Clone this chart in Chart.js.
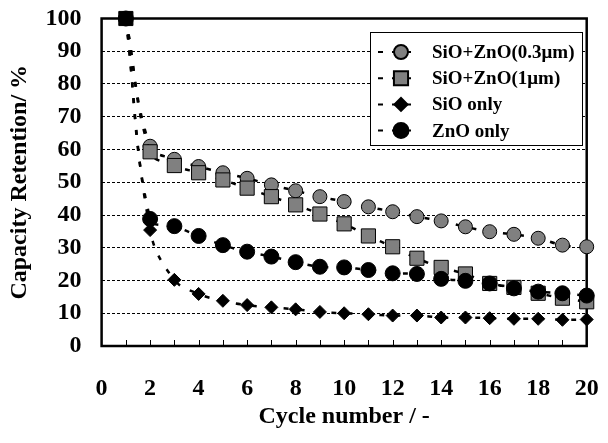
<!DOCTYPE html>
<html>
<head>
<meta charset="utf-8">
<script src="https://cdn.jsdelivr.net/npm/chart.js@4.4.0/dist/chart.umd.min.js"></script>
<style>
  html, body { margin: 0; padding: 0; background: #fff; }
  #wrap { width: 608px; height: 443px; }
</style>
</head>
<body>
<div id="wrap"><canvas id="chart"></canvas></div>
<script>
// cycle numbers on the x axis
const cycles = [1, 2, 3, 4, 5, 6, 7, 8, 9, 10, 11, 12, 13, 14, 15, 16, 17, 18, 19, 20];

// capacity retention (%)
const sioZnO03 = [100, 61.0, 57.0, 54.8, 52.9, 51.2, 49.2, 47.4, 45.6, 44.1, 42.5, 41.0, 39.5, 38.2, 36.4, 34.9, 34.1, 32.9, 30.8, 30.3];
const sioZnO1  = [100, 59.3, 55.1, 52.9, 50.7, 48.2, 45.6, 43.1, 40.3, 37.3, 33.6, 30.3, 26.8, 24.0, 22.0, 19.1, 17.9, 16.1, 14.6, 13.5];
const sioOnly  = [100, 35.4, 20.2, 15.9, 13.8, 12.5, 11.8, 11.2, 10.4, 10.0,  9.7,  9.3,  9.3,  8.7,  8.7,  8.5,  8.3,  8.3,  8.0,  8.1];
const znoOnly  = [100, 38.8, 36.6, 33.6, 30.8, 28.8, 27.3, 25.6, 24.2, 24.0, 23.2, 22.2, 22.0, 20.5, 19.9, 19.1, 17.6, 16.6, 16.1, 15.4];

const seriesLabels = ['SiO+ZnO(0.3μm)', 'SiO+ZnO(1μm)', 'SiO only', 'ZnO only'];

const X_MIN = 0, X_MAX = 20, X_STEP = 2;
const Y_MIN = 0, Y_MAX = 100, Y_STEP = 10;

const FONT = 'Liberation Serif, "Times New Roman", serif';
const GRAY = '#808080';

const toPoints = vals => cycles.map((c, i) => ({ x: c, y: vals[i] }));

const lineBase = {
  showLine: true,
  borderColor: '#000',
  borderWidth: 2.5,
  borderDash: [5, 11],
  tension: 0.4,
  pointBorderColor: '#000',
  pointBorderWidth: 1,
  pointHoverRadius: 7,
  clip: false,
};

/* frame, inner x minor ticks, legend box */
const decorPlugin = {
  id: 'decor',
  beforeDatasetsDraw(chart) {
    const { ctx, chartArea: a, scales: { x } } = chart;
    ctx.save();
    ctx.strokeStyle = '#000';
    // minor ticks pointing into the plot
    ctx.lineWidth = 1;
    for (let v = X_MIN + 1; v < X_MAX; v++) {
      const px = Math.round(x.getPixelForValue(v)) + 0.5;
      ctx.beginPath();
      ctx.moveTo(px, a.bottom);
      ctx.lineTo(px, a.bottom - 6);
      ctx.stroke();
    }
    ctx.lineWidth = 2.5;
    ctx.strokeRect(a.left, a.top, a.right - a.left, a.bottom - a.top);
    ctx.restore();
  },
  afterDatasetsDraw(chart) {
    const { ctx } = chart;
    const box = { x: 370, y: 32, w: 212, h: 113 };
    ctx.save();
    ctx.fillStyle = '#fff';
    ctx.fillRect(box.x, box.y, box.w, box.h);
    ctx.strokeStyle = '#000';
    ctx.lineWidth = 1;
    ctx.strokeRect(box.x + 0.5, box.y + 0.5, box.w, box.h);

    chart.data.datasets.forEach((ds, i) => {
      const cy = box.y + 20 + i * 26.2;
      ctx.strokeStyle = '#000';
      ctx.lineWidth = 2;
      ctx.setLineDash([5, 9]);
      ctx.beginPath();
      ctx.moveTo(378, cy);
      ctx.lineTo(420, cy);
      ctx.stroke();
      ctx.setLineDash([]);

      ctx.fillStyle = ds.legendColor;
      ctx.strokeStyle = '#000';
      Chart.helpers.drawPoint(ctx, {
        pointStyle: ds.pointStyle,
        radius: ds.pointRadius,
        borderWidth: 1,
        rotation: 0,
      }, 401, cy);

      ctx.fillStyle = '#000';
      ctx.font = 'bold 19px ' + FONT;
      ctx.textAlign = 'left';
      ctx.textBaseline = 'middle';
      ctx.fillText(ds.label, 432, cy + 1);
    });
    ctx.restore();
  }
};

new Chart(document.getElementById('chart'), {
  type: 'scatter',
  data: {
    datasets: [
      {
        ...lineBase,
        label: seriesLabels[0],
        data: toPoints(sioZnO03),
        pointStyle: 'circle',
        pointRadius: 7,
        pointBackgroundColor: GRAY,
        legendColor: GRAY,
        order: 4,
      },
      {
        ...lineBase,
        label: seriesLabels[1],
        data: toPoints(sioZnO1),
        pointStyle: 'rect',
        pointRadius: 10,
        pointBackgroundColor: cycles.map(c => (c === 1 ? '#000' : GRAY)),
        legendColor: GRAY,
        order: 3,
      },
      {
        ...lineBase,
        label: seriesLabels[2],
        data: toPoints(sioOnly),
        pointStyle: 'rectRot',
        pointRadius: 6.5,
        pointBackgroundColor: '#000',
        legendColor: '#000',
        order: 2,
      },
      {
        ...lineBase,
        label: seriesLabels[3],
        data: toPoints(znoOnly),
        pointStyle: 'circle',
        pointRadius: 7.5,
        pointBackgroundColor: '#000',
        legendColor: '#000',
        order: 1,
      },
    ]
  },
  options: {
    responsive: true,
    maintainAspectRatio: false,
    animation: false,
    layout: { padding: { top: 18.5, right: 21.3, bottom: 0, left: 0 } },
    plugins: {
      legend: { display: false },
      tooltip: { enabled: true },
    },
    scales: {
      x: {
        type: 'linear',
        min: X_MIN,
        max: X_MAX,
        grid: { display: false, drawTicks: false },
        border: { display: false },
        ticks: {
          stepSize: X_STEP,
          padding: 28,
          color: '#000',
          font: { family: FONT, size: 24, weight: 'bold' },
        },
        title: {
          display: true,
          text: 'Cycle number / -',
          color: '#000',
          font: { family: FONT, size: 24, weight: 'bold' },
          padding: { top: 0, bottom: 12 },
        },
        afterFit: s => {
          s.height = 97;
          s.paddingLeft = 0;
          s.paddingRight = 0;
        },
      },
      y: {
        min: Y_MIN,
        max: Y_MAX,
        grid: { color: '#000', lineWidth: 1, drawTicks: false },
        border: { display: false, dash: [3, 2] },
        ticks: {
          stepSize: Y_STEP,
          padding: 20,
          color: '#000',
          font: { family: FONT, size: 24, weight: 'bold' },
        },
        title: {
          display: true,
          text: 'Capacity Retention/ %',
          color: '#000',
          font: { family: FONT, size: 24, weight: 'bold' },
          padding: { top: 5.5, bottom: 0 },
        },
        afterFit: s => {
          s.width = 101.6;
          s.paddingTop = 0;
          s.paddingBottom = 0;
        },
      },
    },
  },
  plugins: [decorPlugin],
});
</script>
</body>
</html>
